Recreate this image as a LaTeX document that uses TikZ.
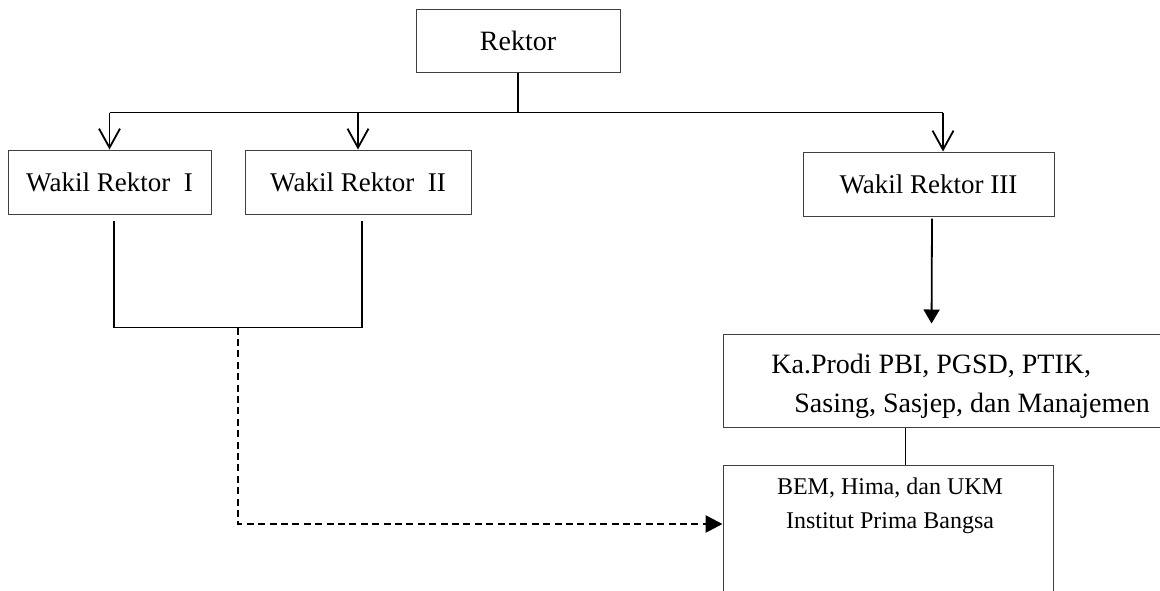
\documentclass[tikz,border=0pt]{standalone}
\usepackage{fontspec}
\setmainfont{Liberation Serif}
\usetikzlibrary{arrows.meta, calc}

\begin{document}
\begin{tikzpicture}[x=0.5pt, y=-0.5pt]
            \tikzset{
                org_box/.style={draw=black!75, line width=0.5pt, shape = rectangle, inner sep=0pt, font=\fontsize{14}{19.5}\selectfont},
                wakil_box/.style={org_box, minimum height=32pt, font=\fontsize{13.5}{16}\selectfont},
                link/.style={line width=0.9pt},
                open_tip/.style={link, -{Straight Barb[length=9.5pt, width=10.5pt]}},
                solid_tip/.style={link, -{Triangle[length=7pt, width=8pt]}},
                dash_link/.style={line width=1.3pt, dash pattern=on 3.5pt off 2.2pt, -{Triangle[length=8.5pt, width=8.5pt]}}
            }
            \useasboundingbox (0,0) rectangle (1160,590);
            \clip (0,0) rectangle (1160,590);
            % boxes
            \node[org_box, minimum width=102pt, minimum height=31.5pt] (rektor) at (518,40.5) {Rektor};
            \node[wakil_box, minimum width=101.5pt] (wr1) at (109.5,182) {Wakil Rektor\enspace I};
            \node[wakil_box, minimum width=113pt] (wr2) at (358,182) {Wakil Rektor\enspace II};
            \node[wakil_box, minimum width=125.5pt] (wr3) at (928.5,184) {Wakil Rektor III};
            \node[org_box, minimum width=223.5pt, minimum height=46.5pt] (kaprodi) at (946.5,380.5) {};
            \node[anchor=west, align=left, inner sep=0pt, font=\fontsize{14}{19.5}\selectfont] (kaprodi_text) at (771,386)
                {Ka.Prodi PBI, PGSD, PTIK,\\\hspace{11.5pt}Sasing, Sasjep, dan Manajemen};
            \node[org_box, minimum width=165pt, minimum height=77.5pt] (bem) at (888,542.5) {};
            \node[anchor=north, align=center, inner sep=0pt, font=\fontsize{12}{17}\selectfont] (bem_text) at ($(bem.north)+(2,13)$)
                {BEM, Hima, dan UKM\\Institut Prima Bangsa};
            % rektor to wakil
            \coordinate (bar) at ($(rektor.south)+(0,40)$);
            \draw[link] (rektor.south) -- (bar);
            \draw[link] (bar -| wr1.north) -- (bar -| {$(wr3.north)+(14.5,0)$});
            \draw[open_tip] (bar -| wr1.north) -- (wr1.north);
            \draw[open_tip] (bar -| wr2.north) -- (wr2.north);
            \draw[open_tip] (bar -| {$(wr3.north)+(14.5,0)$}) -- ($(wr3.north)+(14.5,0)$);
            % wakil I and II to bem
            \coordinate (join_l) at ($(wr1.south)+(4.5,6)$);
            \coordinate (join_r) at ($(wr2.south)+(4,6)$);
            \coordinate (join_mid) at ($(join_l)!0.5!(join_r)+(0,107)$);
            \draw[link] (join_l) |- (join_mid) -| (join_r);
            \draw[dash_link] (join_mid) |- ($(bem.west)+(0,-18.5)$);
            % wakil III to kaprodi to bem
            \draw[solid_tip, shorten >=5pt] ($(wr3.south)+(3.5,2)$) -- ($(kaprodi.north west)+(209,0)$);
            \draw[link] ($(kaprodi.south west)+(183,0)$) -- ($(bem.north west)+(183,0)$);
        \end{tikzpicture}
\end{document}
